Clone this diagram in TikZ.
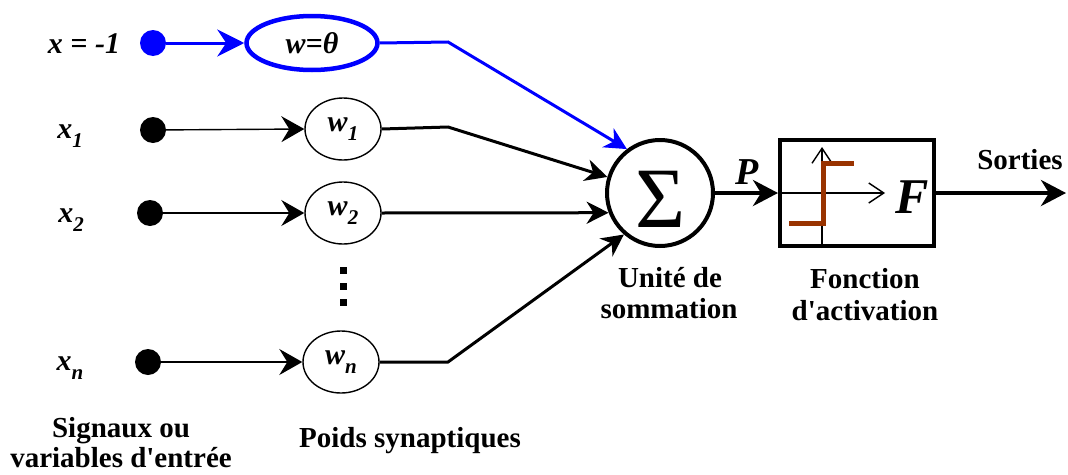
\documentclass[tikz,border=0pt]{standalone}
\usepackage{fontspec}
\setmainfont{Liberation Serif}
\usetikzlibrary{arrows.meta,shapes.geometric}

% lowered subscript in the same bold italic face
\newcommand\lowsub[1]{\raisebox{-0.3em}{\fontsize{21}{21}\selectfont #1}}

\begin{document}
\begin{tikzpicture}[x=1pt,y=-1pt,
  lbl/.style={font=\fontsize{29}{31}\selectfont\bfseries, inner sep=0, anchor=base},
  var/.style={font=\fontsize{30}{32}\selectfont\bfseries\itshape, inner sep=0},
  dot/.style={circle, fill, inner sep=0, minimum size=26pt},
  wnode/.style={ellipse, draw, line width=1.4pt, minimum width=76pt, minimum height=62pt,
                inner sep=0, font=\fontsize{30}{32}\selectfont\bfseries\itshape},
  thintip/.style={line width=1.4pt, -{Stealth[length=23pt,width=26pt,inset=8pt]}},
  sumtip/.style={line width=3pt, -{Stealth[length=22pt,width=22pt,inset=7pt]}},
  bigtip/.style={line width=4pt, -{Stealth[length=25pt,width=26pt,inset=8pt]}},
  axis/.style={line width=1.4pt, -{Straight Barb[length=15pt,width=20pt]}},
  biasblue/.style={draw=blue, color=blue}
]
\definecolor{stepbrown}{RGB}{153,51,0}
\useasboundingbox (0,0) rectangle (1068,474);

% input signals
\node[var, anchor=base] (lb) at (84,53) {x = -1};
\node[var, anchor=base] (l1) at (70,138) {x\lowsub{1}};
\node[var, anchor=base] (l2) at (71,222) {x\lowsub{2}};
\node[var, anchor=base] (ln) at (70,370) {x\lowsub{n}};

\node[dot, fill=blue] (db) at (153,43) {};
\node[dot] (d1) at (153,130) {};
\node[dot] (d2) at (150,213) {};
\node[dot] (dn) at (148,362) {};

% synaptic weights
\node[ellipse, draw=blue, line width=4.5pt, minimum width=131pt, minimum height=54pt,
      inner sep=0, font=\fontsize{30}{32}\selectfont\bfseries\itshape] (wb) at (312,43) {w=θ};
\node[wnode] (w1) at (343,129) {w\lowsub{1}};
\node[wnode] (w2) at (343,213) {w\lowsub{2}};
\node[wnode] (wn) at (341,362) {w\lowsub{n}};

% vertical ellipsis
\foreach \yy/\nm in {270/e1,286/e2,302/e3}
  \node[rectangle, fill, inner sep=0, minimum size=7pt] (\nm) at (343,\yy) {};

% summation unit and activation block
\node[circle, draw, line width=4pt, minimum size=106pt, inner sep=0] (sum) at (660,193) {};
\node[font=\fontsize{86}{86}\selectfont, inner sep=0] (sig) at (661,199) {Σ};
\node[rectangle, draw, line width=4pt, minimum width=154pt, minimum height=106pt, inner sep=0]
  (act) at (857,193) {};

\coordinate (kb) at (448,42);
\coordinate (k1) at (448,127);
\coordinate (kn) at (448,362);

% connectors
\draw[biasblue, line width=3pt, -{Stealth[length=27pt,width=27pt,inset=9pt]}] (db) -- (wb.west);
\draw[biasblue, line width=3pt, -{Stealth[length=22pt,width=22pt,inset=7pt]}]
  (wb.east) -- (kb) -- (sum.127);
\draw[thintip] (d1) -- (w1.west);
\draw[thintip] (d2) -- (w2.west);
\draw[thintip] (dn) -- (wn.west);
\draw[sumtip] (w1.east) -- (k1) -- (sum.163);
\draw[sumtip] (w2.east) -- (sum.201);
\draw[sumtip] (wn.east) -- (kn) -- (sum.229);
\draw[bigtip] (sum.east) -- (act.west);
\coordinate (out) at (1066,193);
\draw[bigtip] (act.east) -- (out);

% step function inside the activation block
\coordinate (ax0) at (822,248);
\coordinate (ax1) at (822,147);
\coordinate (ay1) at (885,193);
\draw[axis] (ax0) -- (ax1);
\draw[axis] (act.west) -- (ay1);
\draw[stepbrown, line width=5pt] (789,223) -- (823,223) -- (823,163) -- (854,163);

\node[font=\fontsize{50}{50}\selectfont\bfseries\itshape, inner sep=0] (F) at (912,197) {F};
\node[font=\fontsize{38}{38}\selectfont\bfseries\itshape, inner sep=0] (P) at (747,172) {P};

% captions
\node[lbl] (so) at (1020,169) {Sorties};
\node[lbl] (u1) at (670,287) {Unité de};
\node[lbl] (u2) at (669,318) {sommation};
\node[lbl] (f1) at (865,288) {Fonction};
\node[lbl] (f2) at (865,320) {d\textquotesingle activation};
\node[lbl] (s1) at (121,437) {Signaux ou};
\node[lbl] (s2) at (121,467) {variables d\textquotesingle entrée};
\node[lbl] (p1) at (410,447) {Poids synaptiques};
\end{tikzpicture}
\end{document}
